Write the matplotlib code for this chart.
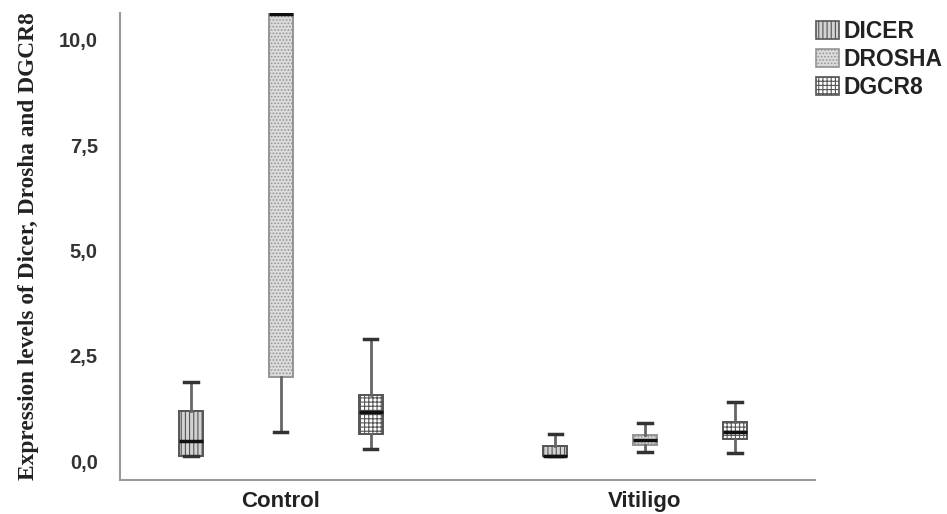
import matplotlib.pyplot as plt
from matplotlib.patches import Patch

# groups and genes
groups = ['Control', 'Vitiligo']
genes = ['DICER', 'DROSHA', 'DGCR8']

# box stats: [Control, Vitiligo]
dicer_q1 = [0.12, 0.11]
dicer_med = [0.48, 0.13]
dicer_q3 = [1.19, 0.36]
dicer_lo = [0.12, 0.11]
dicer_hi = [1.88, 0.64]

drosha_q1 = [2.00, 0.38]
drosha_med = [10.62, 0.50]
drosha_q3 = [10.64, 0.63]
drosha_lo = [0.70, 0.21]
drosha_hi = [10.64, 0.90]

dgcr8_q1 = [0.64, 0.52]
dgcr8_med = [1.17, 0.68]
dgcr8_q3 = [1.56, 0.93]
dgcr8_lo = [0.28, 0.20]
dgcr8_hi = [2.89, 1.41]

yticks = [0.0, 2.5, 5.0, 7.5, 10.0]
ytick_labels = ['0,0', '2,5', '5,0', '7,5', '10,0']

stats_all = {
    'DICER': (dicer_q1, dicer_med, dicer_q3, dicer_lo, dicer_hi),
    'DROSHA': (drosha_q1, drosha_med, drosha_q3, drosha_lo, drosha_hi),
    'DGCR8': (dgcr8_q1, dgcr8_med, dgcr8_q3, dgcr8_lo, dgcr8_hi),
}
hatches = {'DICER': '||||', 'DROSHA': '.....', 'DGCR8': '++++'}
faces = {'DICER': '#d2d2d2', 'DROSHA': '#dcdcdc', 'DGCR8': '#ffffff'}
edges = {'DICER': '#555555', 'DROSHA': '#959595', 'DGCR8': '#555555'}
offsets = {'DICER': -0.247, 'DROSHA': 0.0, 'DGCR8': 0.247}

plt.rcParams['hatch.linewidth'] = 0.8

fig = plt.figure(figsize=(9.47, 5.14), dpi=100)
ax = fig.add_axes([0.1267, 0.0661, 0.734, 0.9086])

for g in genes:
    q1, med, q3, lo, hi = stats_all[g]
    st = []
    for i in range(len(groups)):
        st.append(dict(q1=q1[i], med=med[i], q3=q3[i], whislo=lo[i], whishi=hi[i], fliers=[]))
    pos = [i + offsets[g] for i in range(len(groups))]
    bp = ax.bxp(st, positions=pos, widths=0.066, patch_artist=True, showfliers=False,
                manage_ticks=False,
                boxprops=dict(facecolor=faces[g], edgecolor=edges[g], linewidth=1.4, hatch=hatches[g]),
                medianprops=dict(color='#111111', linewidth=2.5),
                whiskerprops=dict(color='#666666', linewidth=2),
                capprops=dict(color='#333333', linewidth=2.5),
                capwidths=0.036)

ax.set_xlim(-0.442, 1.467)
ax.set_ylim(-0.45, 10.64)
ax.set_xticks(range(len(groups)))
ax.set_xticklabels(groups, fontfamily='Liberation Sans', fontweight='bold', fontsize=16, color='#222222')
ax.set_yticks(yticks)
ax.set_yticklabels(ytick_labels, fontfamily='Liberation Sans', fontweight='bold', fontsize=14.5, color='#333333')
ax.tick_params(axis='y', length=0, pad=16)
ax.tick_params(axis='x', length=0, pad=8)

for s in ['top', 'right']:
    ax.spines[s].set_visible(False)
for s in ['left', 'bottom']:
    ax.spines[s].set_color('#999999')
    ax.spines[s].set_linewidth(1.5)

ax.set_ylabel('Expression levels of Dicer, Drosha and DGCR8', fontfamily='Liberation Serif',
              fontweight='bold', fontsize=16.8, color='#222222')
ax.yaxis.set_label_coords(-0.117, 0.5)

handles = [Patch(facecolor=faces[g], edgecolor=edges[g], hatch=hatches[g], linewidth=1.2) for g in genes]
leg = fig.legend(handles, genes, loc='upper left', bbox_to_anchor=(816 / 947, 1 - 20 / 514),
                 frameon=False, borderpad=0, borderaxespad=0, handlelength=1.0, handleheight=0.8,
                 handletextpad=0.2, labelspacing=0.22,
                 prop=dict(family='Liberation Sans', weight='bold', size=16.5))
for t in leg.get_texts():
    t.set_color('#222222')

fig.savefig('out.png', dpi=100)
